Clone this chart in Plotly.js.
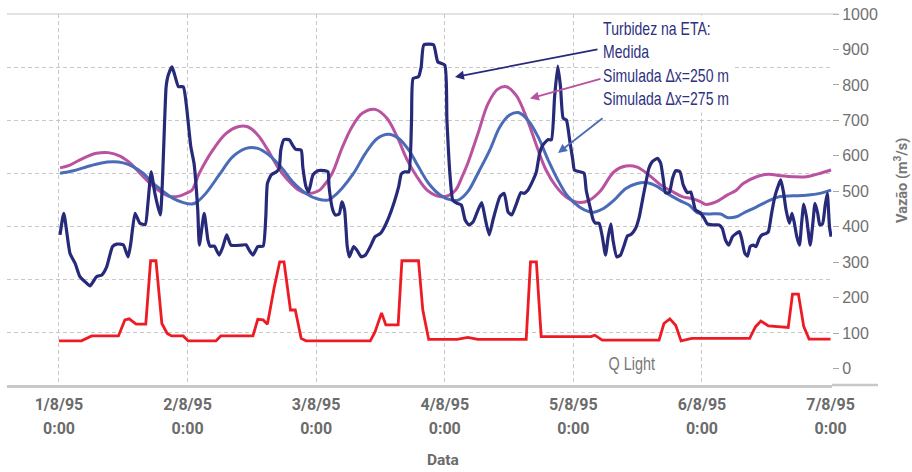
<!DOCTYPE html>
<html>
<head>
<meta charset="utf-8">
<script src="https://cdn.plot.ly/plotly-3.0.1.min.js"></script>
<style>html,body{margin:0;padding:0;background:#fff;}#chart{width:912px;height:472px;}</style>
</head>
<body>
<div id="chart"></div>
<script>
// Eixo x em horas desde 1/8/95 0:00
const diasTicks = [0, 24, 48, 72, 96, 120, 144];
const rotulosData = ['1/8/95', '2/8/95', '3/8/95', '4/8/95', '5/8/95', '6/8/95', '7/8/95'];
const rotulosHora = ['0:00', '0:00', '0:00', '0:00', '0:00', '0:00', '0:00'];
const gradeX = [0, 24, 48, 72, 96, 120];
const vazaoTicks = [0, 100, 200, 300, 400, 500, 600, 700, 800, 900, 1000];

// Turbidez medida
const medidaHoras = [0.2,0.9,2.05,3.0,3.9,4.85,5.8,7.0,8.0,8.9,10.0,10.8,12.0,12.9,13.4,14.2,15.1,16.1,16.6,17.2,17.9,18.9,20.0,20.4,21.1,21.6,22.3,23.2,23.8,24.6,25.2,25.9,26.2,27.1,27.8,28.2,29.0,29.9,30.6,31.3,32.1,34.0,34.9,35.5,36.2,37.1,38.1,38.6,38.9,39.6,40.6,41.1,41.4,42.0,43.0,43.6,44.2,45.2,45.5,46.1,46.6,47.4,48.3,49.5,50.2,50.4,51.1,51.6,52.3,52.8,53.3,53.8,54.2,55.0,55.6,56.4,57.2,58.1,59.0,60.0,60.6,61.5,62.5,63.4,63.9,64.6,65.3,65.8,66.1,67.1,67.6,68.1,69.9,70.7,72.0,72.4,73.0,73.5,74.3,75.1,75.8,76.5,77.3,78.2,78.9,79.6,80.3,81.0,82.3,83.1,83.8,84.5,85.4,86.2,86.8,87.5,88.5,89.1,89.7,90.3,91.3,91.9,92.5,93.1,93.6,94.1,94.7,95.3,95.9,96.2,97.2,98.0,98.4,99.1,99.7,100.1,100.8,101.4,102.0,102.5,103.0,103.4,104.1,104.8,105.4,106.1,106.8,107.6,108.3,108.9,109.5,110.1,110.7,111.7,112.3,112.8,113.2,113.9,114.5,115.1,115.9,116.5,117.3,117.9,118.4,118.8,119.6,120.4,121.0,121.9,123.2,123.8,124.4,125.0,125.7,126.4,127.0,127.4,128.0,128.5,129.0,129.6,130.1,130.7,131.2,132.0,132.4,133.0,133.6,134.3,134.7,135.2,135.7,136.3,136.8,137.2,137.7,138.2,138.6,139.0,139.5,140.2,140.7,141.1,141.6,142.0,142.5,143.0,143.4,143.8,144.1];
const medidaValores = [377,438,325,297,259,245,233,259,264,287,344,351,349,315,353,438,410,406,466,555,494,433,795,828,851,828,795,795,740,626,579,447,348,438,362,345,345,320,344,377,348,348,349,334,320,344,345,428,522,546,555,565,616,646,645,630,618,616,569,513,499,546,558,558,555,513,447,433,436,470,447,344,315,344,334,315,320,344,372,381,395,424,466,513,549,555,555,701,818,823,851,913,913,865,856,701,541,475,466,461,419,405,414,447,468,419,377,419,485,494,442,433,466,496,494,503,532,555,607,630,646,645,767,853,795,706,701,645,588,560,555,551,503,456,419,410,410,372,320,372,408,362,315,320,344,374,379,395,428,475,522,565,583,593,579,532,496,496,536,558,555,518,496,498,470,447,440,424,408,405,405,395,362,348,372,381,386,367,325,317,344,348,344,367,377,381,386,438,485,518,532,499,447,410,438,414,372,348,410,464,428,348,410,466,438,405,408,461,494,400,372];

// Simulada Δx=250 m
const sim250Horas = [0.2,2.05,4.5,7.0,9.2,11.4,13.3,15.1,17.0,18.9,20.7,22.6,23.7,24.8,26.2,28.7,31.2,33.4,35.2,37.1,39.0,40.8,42.7,44.5,46.4,48.3,49.1,51.0,52.8,54.7,56.6,59.0,61.2,63.1,65.0,66.8,68.7,70.5,72.1,74.0,75.2,76.3,78.2,80.1,81.9,83.5,85.3,87.2,89.1,90.9,92.8,95.0,97.2,99.0,101.0,103.6,105.8,107.9,110.1,112.3,114.5,116.3,118.5,119.8,120.7,122.6,124.7,126.4,127.7,130.2,132.4,134.6,137.0,139.5,141.7,144.1];
const sim250Valores = [566,574,593,607,609,599,579,551,522,499,485,487,494,503,551,616,663,682,682,659,616,569,532,506,494,500,510,551,621,682,720,731,706,654,588,541,503,487,485,503,540,579,663,748,788,795,771,710,630,560,513,480,468,475,500,555,571,568,546,518,499,485,478,470,463,470,489,503,522,541,548,544,541,541,549,560];

// Simulada Δx=275 m
const sim275Horas = [0.2,2.7,5.2,7.7,10.1,12.0,13.9,15.7,17.6,19.5,21.3,23.2,24.8,25.6,27.4,29.9,32.4,34.9,37.1,39.2,41.4,43.6,46.1,48.3,50.2,51.0,52.8,55.0,57.2,59.4,61.5,63.4,65.3,67.1,69.0,71.2,73.3,74.5,76.3,78.2,80.4,82.3,84.1,85.7,87.5,89.4,91.3,93.1,95.0,97.2,99.0,99.9,101.7,103.6,105.8,107.9,109.8,111.7,113.5,115.7,117.6,119.1,121.0,123.5,124.7,126.4,127.7,130.2,132.7,134.6,137.0,139.5,142.0,144.1];
const sim275Valores = [551,558,569,579,583,580,569,551,522,499,480,468,464,468,494,546,597,621,621,602,569,527,494,478,475,482,508,551,607,649,661,649,616,569,522,489,475,475,499,551,616,682,715,722,701,654,588,532,485,455,442,441,452,475,508,522,524,513,494,475,461,440,436,436,426,428,438,456,475,485,487,489,494,503];

// Q Light (vazão)
const qHoras = [0,4.2,6.1,11.1,12.3,13.1,14.4,16.2,17.1,18.1,19.2,20.2,21.0,23.2,24.1,29.3,30.2,36.2,37.1,38.1,38.9,40.2,41.2,42.0,43.2,44.1,45.2,46.1,58.1,59.0,60.2,61.0,63.3,64.0,67.1,67.9,69.0,74.3,76.3,78.2,87.2,88.0,89.1,90.0,99.3,100.0,101.4,112.0,112.9,114.0,115.1,116.1,118.1,128.9,130.0,131.0,132.4,136.1,136.9,138.0,139.0,140.0,144.0];
const qValores = [78,78,92,92,137,140,125,125,304,304,127,99,92,92,78,78,92,92,139,137,125,231,301,301,165,165,85,78,78,104,157,123,123,304,304,165,82,82,88,82,82,301,301,90,90,94,80,80,127,140,122,78,85,85,118,134,120,116,210,210,118,83,83];

const cNavy = '#262a78', cMag = '#b9529f', cBlue = '#4a6cb6', cRed = '#ed1c24';
const sansFam = '"Liberation Sans", Arial, sans-serif';
const xRange = [-9.7, 144.27];
const yRange = [-46.5, 1000];
const gridC = '#c8c8c8';
// grade horizontal: 7 faixas iguais da área do gráfico
const gradeY = [1, 2, 3, 4, 5, 6].map(k => yRange[0] + k * (yRange[1] - yRange[0]) / 7);

const traces = [
  {x: sim250Horas, y: sim250Valores, type: 'scatter', mode: 'lines', line: {color: cMag, width: 3, shape: 'spline', smoothing: 1}, hoverinfo: 'skip'},
  {x: sim275Horas, y: sim275Valores, type: 'scatter', mode: 'lines', line: {color: cBlue, width: 3, shape: 'spline', smoothing: 1}, hoverinfo: 'skip'},
  {x: medidaHoras, y: medidaValores, type: 'scatter', mode: 'lines', line: {color: cNavy, width: 3.2, shape: 'spline', smoothing: 0.5}, hoverinfo: 'skip'},
  {x: qHoras, y: qValores, xaxis: 'x2', type: 'scatter', mode: 'lines', line: {color: cRed, width: 2.8}, hoverinfo: 'skip'}
];

const tickFontX = {family: 'Roboto, "Open Sans", sans-serif', size: 16, color: '#6b6b6b', weight: 'bold'};

const layout = {
  width: 912, height: 472,
  margin: {l: 7, r: 80, t: 14, b: 87},
  paper_bgcolor: '#ffffff', plot_bgcolor: '#ffffff',
  showlegend: false,
  xaxis: {range: xRange, tickmode: 'array', tickvals: diasTicks, ticktext: rotulosData,
    showgrid: false, zeroline: false, showline: true, linecolor: gridC, linewidth: 2.5,
    ticks: '', tickfont: tickFontX, ticklabelstandoff: 3,
    minor: {tickmode: 'array', tickvals: gradeX, showgrid: true, gridcolor: gridC, gridwidth: 1, griddash: '4px,3px', ticks: ''}},
  xaxis2: {overlaying: 'x', anchor: 'y', range: xRange, tickmode: 'array', tickvals: diasTicks, ticktext: rotulosHora,
    showgrid: false, zeroline: false, showline: false, ticks: '', tickfont: tickFontX, ticklabelstandoff: 32},
  yaxis: {side: 'right', range: yRange, tickmode: 'array', tickvals: vazaoTicks,
    ticks: 'outside', ticklen: 6, tickcolor: '#a8a8a8', tickwidth: 1,
    showgrid: false, zeroline: false, showline: false,
    tickfont: {family: sansFam, size: 16, color: '#707070'},
    minor: {tickmode: 'array', tickvals: gradeY, showgrid: true, gridcolor: gridC, gridwidth: 1, griddash: '4px,3px', ticks: ''}},
  shapes: [
    {type: 'line', xref: 'paper', yref: 'paper', x0: 0, x1: 1.0073, y0: 1, y1: 1, line: {color: gridC, width: 1.2}},
    {type: 'line', xref: 'paper', yref: 'paper', x0: 1, x1: 1.0558, y0: 0, y1: 0, line: {color: gridC, width: 2.5}}
  ],
  annotations: [
    {xref: 'paper', yref: 'paper', x: 0.7188, y: 0.9973, xanchor: 'left', yanchor: 'top', align: 'left',
      showarrow: false, bgcolor: '#ffffff', borderpad: 3,
      text: 'Turbidez na ETA:<br>Medida<br>Simulada Δx=250 m<br>Simulada Δx=275 m',
      font: {family: sansFam, size: 18, color: '#2e3180'}},
    {xref: 'paper', yref: 'paper', x: 0.5430, y: 0.8302, axref: 'pixel', ayref: 'pixel', ax: 144, ay: -28,
      text: '', showarrow: true, arrowhead: 2, arrowsize: 1, arrowwidth: 1.8, arrowcolor: cNavy, standoff: 0},
    {xref: 'paper', yref: 'paper', x: 0.6339, y: 0.7722, axref: 'pixel', ayref: 'pixel', ax: 72, ay: -20,
      text: '', showarrow: true, arrowhead: 2, arrowsize: 1, arrowwidth: 1.8, arrowcolor: cMag, standoff: 0},
    {xref: 'paper', yref: 'paper', x: 0.6679, y: 0.6253, axref: 'pixel', ayref: 'pixel', ax: 46, ay: -36,
      text: '', showarrow: true, arrowhead: 2, arrowsize: 1, arrowwidth: 1.8, arrowcolor: cBlue, standoff: 0},
    {xref: 'paper', yref: 'paper', x: 0.7273, y: 0.0566, xanchor: 'left', yanchor: 'middle',
      showarrow: false, text: 'Q Light', font: {family: sansFam, size: 18, color: '#777777'}},
    {xref: 'paper', yref: 'paper', x: 0.5279, y: -0.2022, xanchor: 'center', yanchor: 'middle',
      showarrow: false, text: 'Data', font: {family: 'Roboto, sans-serif', size: 15.5, color: '#6b6b6b', weight: 'bold'}},
    {xref: 'paper', yref: 'paper', x: 1.0848, y: 0.5526, xanchor: 'center', yanchor: 'middle', textangle: -90,
      showarrow: false, text: 'Vazão (m<sup>3</sup>/s)', font: {family: 'Roboto, sans-serif', size: 14.5, color: '#777777', weight: 'bold'}}
  ]
};

Plotly.newPlot('chart', traces, layout, {staticPlot: true, displayModeBar: false}).then(gd => {
  // estreitar horizontalmente os textos em fonte condensada (legenda e Q Light)
  const condense = (idx, s) => {
    const g = gd.querySelector('.annotation[data-index="' + idx + '"] .annotation-text-g > g');
    if (g) {
      const t = g.getAttribute('transform') || '';
      g.setAttribute('transform', t + ' scale(' + s + ',1)');
    }
  };
  condense(0, 0.78);
  condense(4, 0.8);
});
</script>
</body>
</html>
